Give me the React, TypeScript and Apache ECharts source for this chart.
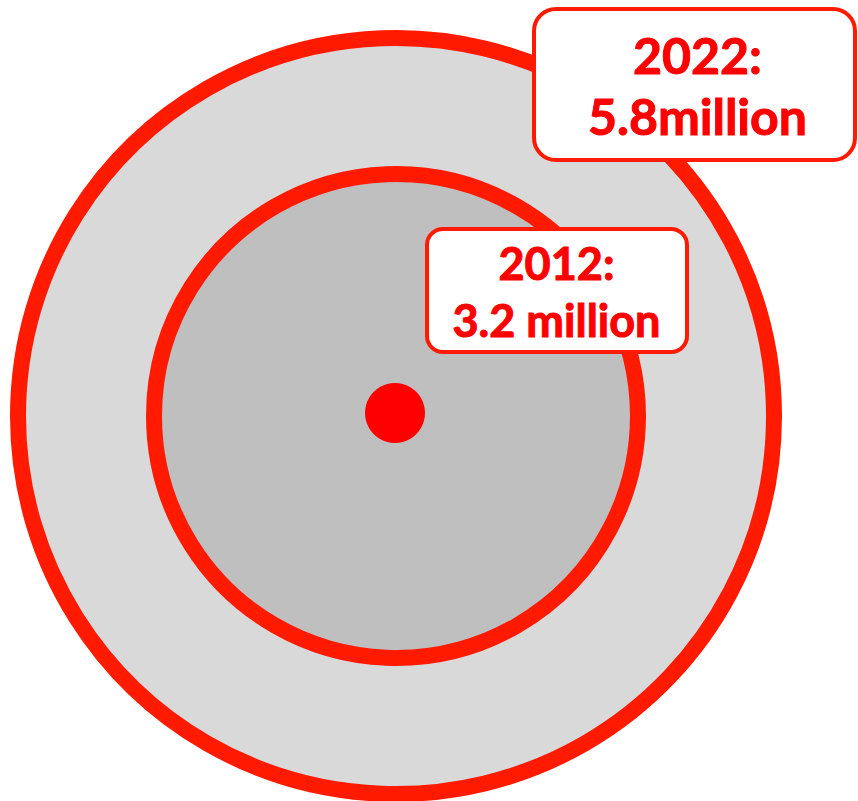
import React, { useEffect, useRef } from "react";
import * as echarts from "echarts";

// ---- data ----
const years = ["2012", "2022"];
const values = [3.2, 5.8]; // million
const valueLabels = ["3.2 million", "5.8million"];
const ringFills = ["#BFBFBF", "#D9D9D9"];

// ---- layout / style constants ----
const W = 858;
const H = 801;
const CX = 396; // pixel centre of the rings
const CY = 416;
const RADIUS_EXP = 0.75; // radius scale exponent
const PX_PER_UNIT = 101.14;
const RING_RED = "#FF1A00";
const TEXT_RED = "#FF0000";

const labelBoxes = [
  { x: 427, y: 229, w: 260, h: 123, r: 16, cx: 556.5, l1: 263, l2: 320, size: 45 },
  { x: 534, y: 9, w: 321, h: 151, r: 22, cx: 697.5, l1: 55, l2: 116, size: 50 },
];

export default function App() {
  const ref = useRef<HTMLDivElement>(null);
  useEffect(() => {
    document.body.style.margin = "0";
    const chart = echarts.init(ref.current!, undefined, { renderer: "svg" });

    const order = values
      .map((v, i) => i)
      .sort((a, b) => values[b] - values[a]);
    const ringData = order.map((i) => ({
      name: years[i],
      value: [0, 0, values[i]],
      itemStyle: { color: ringFills[i] },
    }));

    const graphics: any[] = [];
    years.forEach((yr, i) => {
      const b = labelBoxes[i];
      graphics.push({
        type: "rect",
        z: 100,
        shape: { x: b.x, y: b.y, width: b.w, height: b.h, r: b.r },
        style: { fill: "#FFFFFF", stroke: RING_RED, lineWidth: 4 },
      });
      [`${yr}:`, valueLabels[i]].forEach((t, k) => {
        graphics.push({
          type: "text",
          z: 101,
          style: {
            text: t,
            x: b.cx,
            y: k === 0 ? b.l1 : b.l2,
            fill: TEXT_RED,
            stroke: TEXT_RED,
            lineWidth: 1,
            font: `bold ${b.size}px Lato`,
            textAlign: "center",
            textVerticalAlign: "middle",
            align: "center",
            verticalAlign: "middle",
          },
        });
      });
    });

    chart.setOption({
      animation: false,
      grid: { left: 0, right: 0, top: 0, bottom: 0 },
      xAxis: {
        type: "value",
        show: false,
        min: -CX / PX_PER_UNIT,
        max: (W - CX) / PX_PER_UNIT,
      },
      yAxis: {
        type: "value",
        show: false,
        min: -(H - CY) / PX_PER_UNIT,
        max: CY / PX_PER_UNIT,
      },
      series: [
        {
          type: "custom",
          data: ringData,
          encode: { x: 0, y: 1 },
          clip: false,
          renderItem: (params: any, api: any) => {
            const c = api.coord([api.value(0), api.value(1)]);
            const r = api.size([Math.pow(api.value(2), RADIUS_EXP), 0])[0];
            return {
              type: "circle",
              shape: { cx: c[0], cy: c[1], r },
              style: {
                fill: api.visual("color"),
                stroke: RING_RED,
                lineWidth: 16,
              },
            };
          },
        },
        {
          type: "scatter",
          data: [[0, 0]],
          symbolSize: 60,
          symbolOffset: [-1, -3],
          itemStyle: { color: TEXT_RED, opacity: 1 },
          z: 5,
        },
      ],
      graphic: graphics,
    });
    return () => chart.dispose();
  }, []);
  return <div ref={ref} style={{ width: W, height: H }} />;
}
